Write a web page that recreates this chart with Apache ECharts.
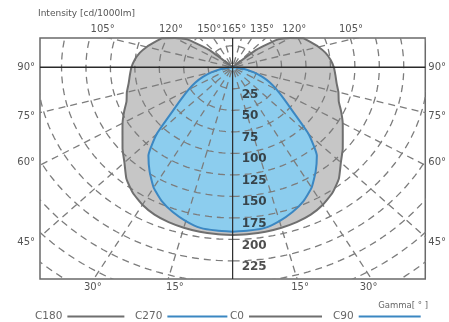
<!DOCTYPE html>
<html><head><meta charset="utf-8">
<script src="https://cdn.jsdelivr.net/npm/echarts@6/dist/echarts.min.js"></script>
<style>html,body{margin:0;padding:0;background:#fff}#c{width:449px;height:322px}</style>
</head><body><div id="c"></div>
<script>
// ---- data (gamma in degrees from nadir, intensity in cd/1000lm) ----
const gammaDeg = [0,5,10,15,20,25,30,35,40,45,50,55,60,65,70,75,80,85,90,95,100,105,110,115,120,125,130,135,140,145,150,155,160,165,170,175,180];
const c180 = [195,194.5,194,193,191.5,189,184.5,178,169,156.5,147,137.5,130,122.5,115.5,112,108,105.5,103.5,100.5,96.5,91,85,79.5,68,56,32,3,0,0,0,0,0,0,0,0,0];
const c0   = [195,194.5,194,193,191.5,189,184.5,178,169,156.5,147,137.5,130,122.5,115.5,112,108,105.5,103.5,100.5,96.5,91,85,79.5,68,56,32,3,0,0,0,0,0,0,0,0,0];
const c270 = [191,190.5,189.5,185,179,171.5,161.5,148,134,110,81,64,52,42,32,22,13,5,0,0,0,0,0,0,0,0,0,0,0,0,0,0,0,0,0,0,0];
const c90  = [191,190.5,189.5,185,179,171.5,161.5,148,134,110,81,64,52,42,32,22,13,5,0,0,0,0,0,0,0,0,0,0,0,0,0,0,0,0,0,0,0];
const ringValues = [25,50,75,100,125,150,175,200,225,250,275,300,325];
const ringLabels = [25,50,75,100,125,150,175,200,225];
const spokeDeg = [15,30,45,60,75,105,120,135,150,165];
const topTickPos = [-133,-63,-24,1.5,30,63,121];
const topTickLabels = ['105°','120°','150°','165°','135°','120°','105°'];
const bottomTickPos = [-143,-59,69,139];
const bottomTickLabels = ['30°','15°','15°','30°'];
const sideTickPos = [0,-57,-110,-204];
const sideTickLabels = ['90°','75°','60°','45°'];
const legendNames = ['C180','C270','C0','C90'];

const FONT = 'DejaVu Sans';
const GREY_FILL = '#c6c6c6', GREY_LINE = '#6f6f6f';
const BLUE_FILL = '#8ccdee', BLUE_LINE = '#3b87c2';
const X_MIN = -197, X_MAX = 197, Y_MIN = -246, Y_MAX = 34;

function toXY(I, g, side) {
  const r = g * Math.PI / 180;
  return [side * I * Math.sin(r), -I * Math.cos(r)];
}
function lookup(pos, labels) {
  const m = {};
  pos.forEach((p, i) => m[String(p)] = labels[i]);
  return v => m[String(v)] !== undefined ? m[String(v)] : '';
}

function fillSeries(left, right, color, z) {
  return {
    type: 'custom', silent: true, clip: true, z, data: [[0, 0]],
    renderItem(params, api) {
      const pts = [];
      gammaDeg.forEach((g, i) => pts.push(api.coord(toXY(left[i], g, -1))));
      for (let i = gammaDeg.length - 1; i >= 0; i--) pts.push(api.coord(toXY(right[i], gammaDeg[i], 1)));
      return { type: 'polygon', shape: { points: pts, smooth: 0.15 }, style: { fill: color, stroke: null } };
    }
  };
}
function outlineSeries(name, vals, side, color) {
  return {
    type: 'line', name, z: 4, silent: true, showSymbol: false, symbol: 'none', clip: true, smooth: 0.15,
    color, itemStyle: { color }, lineStyle: { color, width: 2 },
    data: gammaDeg.map((g, i) => toXY(vals[i], g, side))
  };
}

const gridSeries = {
  type: 'custom', silent: true, clip: true, z: 3, data: [[0, 0]],
  renderItem(params, api) {
    const children = [];
    const dashStyle = { stroke: '#7c7c7c', lineWidth: 1.3, lineDash: [7, 5], fill: null };
    ringValues.forEach(R => {
      const pts = [];
      for (let a = 0; a <= 360; a += 2) pts.push(api.coord(toXY(R, a, 1)));
      children.push({ type: 'polyline', shape: { points: pts }, style: dashStyle });
    });
    spokeDeg.forEach(g => {
      [-1, 1].forEach(s => {
        children.push({ type: 'polyline', shape: { points: [api.coord(toXY(4, g, s)), api.coord(toXY(400, g, s))] }, style: dashStyle });
      });
    });
    return { type: 'group', children };
  }
};
const axesLinesSeries = {
  type: 'custom', silent: true, clip: true, z: 5, data: [[0, 0]],
  renderItem(params, api) {
    return { type: 'group', children: [
      { type: 'line', shape: (() => { const a = api.coord([X_MIN, 0]), b = api.coord([X_MAX, 0]); return { x1: a[0], y1: a[1], x2: b[0], y2: b[1] }; })(), style: { stroke: '#2a2a2a', lineWidth: 1.5 } },
      { type: 'line', shape: (() => { const a = api.coord([0, Y_MAX]), b = api.coord([0, Y_MIN]); return { x1: a[0], y1: a[1], x2: b[0], y2: b[1] }; })(), style: { stroke: '#2a2a2a', lineWidth: 1.2 } }
    ]};
  }
};
const ringLabelSeries = {
  type: 'scatter', silent: true, z: 6, symbolSize: 0,
  data: ringLabels.map(v => [0, -v]),
  label: { show: true, position: 'right', distance: 9, offset: [0, 6],
    formatter: p => String(-p.value[1]),
    fontFamily: FONT, fontWeight: 'bold', fontSize: 12, color: '#222' }
};

const axisLabelStyle = { fontFamily: FONT, fontSize: 10, color: '#555' };
const hidden = { axisLine: { show: false }, axisTick: { show: false }, splitLine: { show: false } };
const legendBase = { top: 311, padding: 0, align: 'right', itemHeight: 2, selectedMode: false,
  textStyle: { fontFamily: FONT, fontSize: 10.5, color: '#666' } };
const legendLeft = [35, 135, 230, 333];
const legendWidth = [57, 60, 73, 62];

const option = {
  animation: false,
  backgroundColor: '#fff',
  title: [
    { text: 'Intensity [cd/1000lm]', left: 38, top: 9, padding: 0,
      textStyle: { fontFamily: FONT, fontSize: 9, fontWeight: 'normal', color: '#555' } },
    { text: 'Gamma[ ° ]', right: 21, top: 301, padding: 0,
      textStyle: { fontFamily: FONT, fontSize: 8.5, fontWeight: 'normal', color: '#666' } }
  ],
  legend: legendNames.map((n, i) => Object.assign({}, legendBase, {
    left: legendLeft[i], itemWidth: legendWidth[i], data: [{ name: n, icon: 'rect' }]
  })),
  grid: { left: 40, right: 22, top: 38, bottom: 43, show: true, borderColor: '#6a6a6a', borderWidth: 1.5, backgroundColor: '#fff' },
  xAxis: [
    Object.assign({ type: 'value', position: 'bottom', min: X_MIN, max: X_MAX,
      axisLabel: Object.assign({ customValues: bottomTickPos, formatter: lookup(bottomTickPos, bottomTickLabels), margin: 3 }, axisLabelStyle) }, hidden),
    Object.assign({ type: 'value', position: 'top', min: X_MIN, max: X_MAX,
      axisLabel: Object.assign({ customValues: topTickPos, formatter: lookup(topTickPos, topTickLabels), margin: 4 }, axisLabelStyle) }, hidden)
  ],
  yAxis: [
    Object.assign({ type: 'value', position: 'left', min: Y_MIN, max: Y_MAX,
      axisLabel: Object.assign({ customValues: sideTickPos, formatter: lookup(sideTickPos, sideTickLabels), margin: 5 }, axisLabelStyle) }, hidden),
    Object.assign({ type: 'value', position: 'right', min: Y_MIN, max: Y_MAX,
      axisLabel: Object.assign({ customValues: sideTickPos, formatter: lookup(sideTickPos, sideTickLabels), margin: 3 }, axisLabelStyle) }, hidden)
  ],
  series: [
    fillSeries(c180, c0, GREY_FILL, 1),
    fillSeries(c270, c90, BLUE_FILL, 2),
    gridSeries,
    outlineSeries('C180', c180, -1, GREY_LINE),
    outlineSeries('C0', c0, 1, GREY_LINE),
    outlineSeries('C270', c270, -1, BLUE_LINE),
    outlineSeries('C90', c90, 1, BLUE_LINE),
    axesLinesSeries,
    ringLabelSeries
  ]
};
const chart = echarts.init(document.getElementById('c'), null, { renderer: 'canvas' });
chart.setOption(option);
</script>
</body></html>
